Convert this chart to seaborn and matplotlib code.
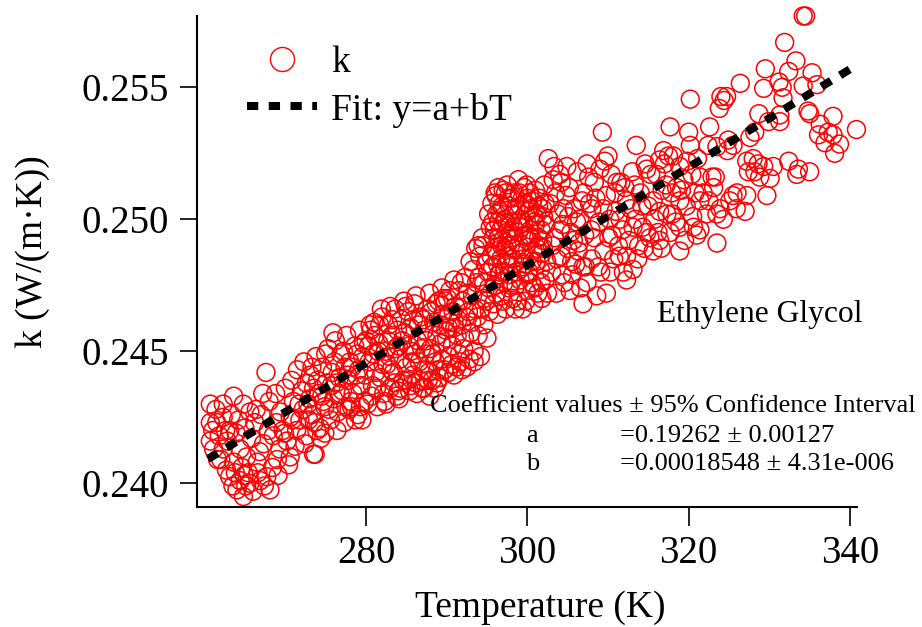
import numpy as np
import pandas as pd
import matplotlib
matplotlib.use("Agg")
import matplotlib.pyplot as plt
import seaborn as sns
from matplotlib.lines import Line2D

# ---------------- data (T in K, k in mW/(m.K)) ----------------
pts_260_274 = [
    (260.7, 243.0), (262.3, 243.0), (263.6, 243.3), (264.8, 243.0), (266.4, 242.8),
    (260.7, 241.6), (261.5, 242.3), (262.3, 242.5), (260.7, 242.3), (263.1, 242.0),
    (261.1, 241.3), (262.3, 241.3), (264.4, 241.3), (263.6, 240.8), (265.2, 241.0),
    (263.1, 240.25), (264.4, 240.1), (265.6, 240.0), (264.0, 239.75), (264.8, 239.5),
    (266.9, 240.1), (268.1, 239.75), (267.7, 240.25), (266.5, 240.8), (267.3, 241.5),
    (268.5, 241.8), (269.3, 241.3), (270.6, 241.0), (268.9, 242.3), (270.6, 242.5),
    (272.2, 242.8), (271.4, 242.0), (272.6, 241.8), (273.5, 241.1), (261.0, 242.0),
    (261.8, 241.8), (262.0, 240.9), (262.8, 241.6), (263.3, 242.6), (263.9, 241.9),
    (264.2, 242.4), (264.6, 240.6), (265.0, 242.1), (265.4, 240.4), (265.8, 241.7),
    (266.2, 242.3), (266.0, 239.7), (263.5, 239.9), (264.9, 240.3), (262.7, 240.5),
    (261.6, 240.9), (266.8, 241.2), (267.0, 242.6), (267.9, 242.0), (268.4, 240.6),
    (269.0, 240.9), (269.7, 242.0), (270.2, 241.6), (271.0, 243.1), (271.8, 242.4),
    (270.0, 243.6), (270.8, 243.9), (271.5, 244.3), (272.0, 243.5), (273.0, 243.2),
    (273.6, 242.3), (274.0, 243.9), (274.4, 241.7), (267.6, 244.2), (273.7, 241.1),
    (267.2, 243.4), (268.0, 243.1), (269.1, 240.3), (270.9, 242.4), (265.6, 242.7),
    (262.6, 242.0), (261.4, 242.8), (263.8, 240.4), (265.1, 239.9), (266.6, 240.4),
    (267.4, 239.9), (268.8, 243.4), (269.4, 242.7), (269.9, 241.9), (270.4, 240.7),
    (271.2, 241.4), (271.7, 243.0), (272.4, 241.5), (272.9, 242.4), (273.3, 244.4),
    (273.9, 242.0),
]
pts_272_280 = [
    (272.3, 244.6), (272.8, 243.0), (273.1, 244.1), (273.3, 242.6), (273.8, 244.8),
    (274.1, 243.4), (274.3, 242.1), (274.6, 244.4), (274.9, 242.9), (275.1, 243.8),
    (275.3, 245.1), (275.6, 242.4), (275.8, 244.2), (276.0, 243.2), (276.2, 245.4),
    (276.5, 242.7), (276.7, 244.0), (276.9, 244.9), (277.1, 243.5), (277.3, 242.3),
    (277.6, 245.6), (277.8, 243.9), (278.0, 244.6), (278.2, 242.9), (278.4, 243.4),
    (278.6, 245.2), (278.8, 244.1), (279.0, 242.6), (279.2, 245.8), (279.4, 243.7),
    (279.6, 244.8), (279.8, 243.1), (280.0, 245.4), (275.0, 244.9), (273.5, 243.6),
    (276.3, 243.8), (277.4, 244.4), (278.9, 244.9), (274.7, 243.1), (272.6, 243.8),
    (279.5, 242.4), (277.9, 242.8), (275.9, 245.7),
    (274.5, 243.3), (274.9, 241.9), (275.4, 242.8), (275.7, 243.7), (276.1, 244.6),
    (276.4, 242.0), (276.8, 243.4), (277.2, 245.0), (277.5, 242.9), (277.7, 244.1),
    (278.1, 243.1), (278.3, 244.4), (278.7, 242.4), (279.1, 244.3), (279.3, 242.9),
    (279.7, 245.3), (279.9, 244.1),
]
pts_280_289 = [
    (280.2, 243.0), (280.4, 244.6), (280.6, 245.8), (280.8, 243.7), (281.0, 246.1),
    (281.2, 244.2), (281.4, 242.9), (281.6, 245.3), (281.8, 244.0), (282.0, 246.3),
    (282.2, 243.4), (282.4, 245.0), (282.6, 244.5), (282.8, 246.0), (283.0, 243.6),
    (283.2, 245.6), (283.4, 244.2), (283.6, 246.6), (283.8, 243.3), (284.0, 245.2),
    (284.2, 244.7), (284.4, 246.2), (284.6, 243.9), (284.8, 245.7), (285.0, 244.4),
    (285.2, 246.5), (285.4, 243.5), (285.6, 245.0), (285.8, 244.1), (286.0, 246.8),
    (286.2, 243.8), (286.4, 245.4), (286.6, 244.6), (286.8, 246.3), (287.0, 243.6),
    (287.2, 245.8), (287.4, 244.9), (287.6, 246.6), (287.8, 244.2), (288.0, 245.1),
    (288.2, 243.9), (288.4, 246.1), (288.6, 244.6), (288.8, 245.6), (289.0, 246.9),
    (281.5, 245.0), (282.9, 244.8), (284.1, 243.2), (285.5, 245.9), (286.9, 245.1),
    (283.7, 245.1), (280.9, 244.9), (287.9, 243.3), (286.1, 244.9), (289.1, 244.0),
    (280.3, 245.2), (280.7, 243.3), (281.1, 245.6), (281.3, 243.6), (281.7, 246.0),
    (282.1, 244.5), (282.5, 243.0), (282.7, 245.4), (283.1, 244.3), (283.3, 246.2),
    (283.5, 243.8), (283.9, 245.8), (284.3, 243.6), (284.5, 245.4), (284.9, 246.7),
    (285.1, 243.9), (285.3, 245.2), (285.7, 244.6), (285.9, 246.2), (286.3, 243.4),
    (286.5, 246.0), (286.7, 243.9), (287.1, 246.2), (287.3, 244.3), (287.5, 245.4),
    (287.7, 243.9), (288.1, 246.5), (288.3, 244.9), (288.5, 243.6), (288.7, 246.8),
    (288.9, 244.3),
    (280.5, 246.0), (281.9, 246.6), (283.0, 246.7), (284.7, 246.9), (286.2, 247.1),
    (287.9, 247.2), (282.3, 243.1), (284.0, 243.5), (285.6, 243.7), (287.2, 243.6),
    (288.8, 243.8),
]
pts_289_295 = [
    (289.3, 245.3), (289.5, 246.4), (289.7, 244.3), (289.9, 245.8), (290.1, 247.0),
    (290.3, 244.8), (290.5, 246.1), (290.7, 245.2), (290.9, 244.1), (291.1, 246.7),
    (291.3, 245.6), (291.5, 247.3), (291.7, 244.6), (291.9, 246.0), (292.1, 245.1),
    (292.3, 247.8), (292.5, 244.4), (292.7, 246.5), (292.9, 248.4), (293.0, 245.7),
    (290.0, 245.5), (291.0, 245.9), (292.0, 246.9), (289.6, 247.0), (291.6, 244.9),
    (293.2, 247.1), (293.4, 245.0), (293.6, 248.9), (293.8, 246.3), (294.0, 247.8),
    (294.2, 244.8), (294.4, 249.3), (294.6, 246.0), (294.8, 248.3), (295.0, 245.5),
    (295.2, 247.4), (295.4, 249.7), (293.5, 246.6), (294.1, 248.6), (294.7, 247.0),
    (295.3, 246.5), (293.9, 245.6), (294.5, 249.0), (295.1, 248.0), (293.3, 248.1),
    (289.2, 246.0), (289.4, 244.7), (289.8, 246.9), (290.2, 245.9), (290.4, 247.3),
    (290.6, 244.5), (290.8, 246.5), (291.2, 244.4), (291.4, 246.2), (291.8, 247.6),
    (292.2, 245.5), (292.4, 246.3), (292.6, 247.2), (292.8, 244.7), (293.1, 246.1),
    (293.7, 247.6), (294.3, 246.6), (294.9, 246.9), (295.5, 248.6), (294.6, 247.6),
    (293.9, 249.0), (295.2, 250.2),
    (289.4, 247.4), (290.9, 247.7), (290.2, 244.2), (291.9, 244.3), (293.4, 244.6),
]
pts_295_302 = [
    (295.6, 250.6), (295.7, 248.2), (295.8, 246.8), (295.9, 249.6), (296.0, 247.5),
    (296.1, 250.9), (296.2, 248.8), (296.3, 246.4), (296.4, 249.9), (296.5, 247.9),
    (296.6, 250.3), (296.7, 248.5), (296.8, 247.1), (296.9, 249.2), (297.0, 251.1),
    (297.1, 248.0), (297.2, 250.0), (297.3, 246.6), (297.4, 249.5), (297.5, 251.3),
    (297.6, 248.6), (297.7, 247.4), (297.8, 250.5), (297.9, 249.0), (298.0, 248.2),
    (298.1, 250.8), (298.2, 247.0), (298.3, 249.7), (298.4, 248.9), (295.9, 248.9),
    (296.4, 249.3), (296.9, 250.5), (297.4, 248.3), (297.9, 249.9), (298.3, 250.2),
    (296.2, 250.2), (296.7, 249.6), (297.2, 248.9), (297.7, 249.4), (298.2, 248.5),
    (295.8, 249.3), (297.0, 249.8), (297.6, 250.8), (296.6, 248.0), (298.0, 247.6),
    (298.6, 250.4), (298.7, 248.0), (298.8, 246.9), (298.9, 249.5), (299.0, 251.0),
    (299.1, 247.7), (299.2, 250.0), (299.3, 248.7), (299.4, 246.6), (299.5, 249.9),
    (299.6, 251.2), (299.7, 248.3), (299.8, 250.6), (299.9, 247.3), (300.0, 249.2),
    (300.1, 250.3), (300.2, 248.0), (300.3, 251.0), (300.4, 249.6), (300.5, 247.6),
    (300.6, 250.7), (300.7, 248.8), (300.8, 246.8), (300.9, 249.9), (301.0, 251.1),
    (301.1, 248.4), (301.2, 250.2), (301.3, 247.2), (301.4, 249.3), (301.5, 250.8),
    (301.6, 248.1), (301.7, 249.6), (301.8, 247.0), (301.9, 250.4), (302.0, 248.9),
    (302.1, 251.3), (302.2, 247.7), (302.3, 249.8), (302.4, 248.4), (299.0, 249.0),
    (299.5, 248.5), (300.0, 250.8), (300.5, 249.3), (301.0, 249.8), (301.5, 249.0),
    (302.0, 250.1), (299.3, 249.7), (300.2, 249.4), (300.8, 250.1), (301.8, 248.7),
    (302.6, 252.3),
    (295.7, 249.9), (296.0, 251.0), (296.3, 248.3), (296.5, 250.6), (296.8, 249.0),
    (297.1, 247.6), (297.3, 251.0), (297.5, 249.0), (297.8, 247.9), (298.1, 249.3),
    (298.4, 251.0), (298.6, 247.5), (298.8, 249.9), (299.1, 250.5), (299.4, 248.2),
    (299.6, 249.4), (299.9, 251.3), (300.1, 247.9), (300.4, 250.4), (300.6, 248.4),
    (300.9, 247.4), (301.2, 248.9), (301.4, 250.5), (301.7, 247.6), (301.9, 249.2),
    (302.2, 250.6), (302.5, 247.2), (296.1, 247.2), (297.0, 246.9), (298.5, 246.6),
    (299.8, 246.9), (296.4, 251.2), (298.9, 251.5),
]
pts_302_312 = [
    (302.8, 250.6), (303.0, 248.0), (303.2, 251.5), (303.4, 249.3), (303.6, 247.2),
    (303.8, 250.2), (304.0, 251.7), (304.2, 248.6), (304.4, 249.8), (304.6, 247.6),
    (304.8, 250.9), (305.0, 248.9), (305.2, 251.2), (305.4, 249.5), (305.6, 247.9),
    (305.8, 250.4), (306.0, 248.3), (306.2, 251.8), (306.4, 249.1), (306.6, 247.4),
    (306.8, 250.7), (303.1, 249.0), (304.1, 249.6), (305.1, 250.1), (306.1, 249.9),
    (303.5, 251.0), (305.5, 248.4), (306.9, 248.2), (304.2, 251.4), (306.9, 246.8),
    (307.1, 249.4), (307.4, 252.1), (307.4, 247.6), (307.7, 250.6), (308.0, 248.5),
    (308.3, 251.4), (308.6, 247.1), (308.9, 249.9), (309.0, 251.9), (309.3, 253.3),
    (309.5, 248.8), (309.8, 247.2), (309.8, 250.9), (310.1, 249.3), (310.4, 251.7),
    (310.7, 248.5), (311.0, 250.3), (311.3, 249.0), (311.6, 251.4), (311.9, 248.0),
    (312.3, 247.7), (312.3, 250.7), (308.3, 249.3), (310.2, 250.0), (311.1, 251.4),
    (308.0, 250.4), (309.6, 252.2), (310.0, 252.4),
    (303.3, 252.0), (304.5, 250.4), (305.3, 247.3), (306.5, 250.0), (307.9, 249.6),
    (309.1, 248.0), (310.5, 249.4), (311.5, 250.0), (304.9, 252.0), (307.0, 251.0),
    (303.7, 248.5), (304.3, 247.9), (305.7, 249.2), (306.3, 248.8), (307.2, 248.2),
    (307.6, 251.6), (308.5, 250.8), (308.8, 248.2), (309.4, 250.4), (310.3, 248.0),
    (310.9, 251.0), (311.4, 248.6), (311.8, 249.6), (312.1, 251.2),
]
pts_312_322 = [
    (312.6, 249.2), (313.0, 251.8), (313.1, 248.1), (313.4, 250.0), (313.5, 252.8),
    (313.8, 249.0), (314.0, 251.0), (314.3, 249.7), (314.6, 252.1), (314.8, 249.5),
    (315.0, 250.5), (315.3, 251.7), (315.6, 248.8), (315.6, 250.7), (316.0, 251.7),
    (316.2, 249.5), (316.4, 250.3), (316.4, 249.2), (316.9, 252.6), (316.7, 251.1),
    (313.1, 249.7), (314.8, 251.9), (312.3, 248.6), (316.4, 252.25),
    (317.0, 252.1), (317.3, 250.2), (317.5, 252.4), (317.7, 249.5), (318.0, 250.2),
    (318.1, 252.4), (318.5, 251.2), (318.9, 250.7), (318.9, 249.7), (318.9, 252.0),
    (319.4, 251.5), (319.7, 250.5), (320.0, 253.3), (320.2, 252.8), (320.4, 251.7),
    (320.5, 250.1), (320.8, 251.0), (321.0, 249.4), (321.4, 250.7), (321.4, 249.6),
    (321.4, 251.6), (317.7, 253.5), (318.9, 248.8), (319.5, 249.2), (320.2, 254.55),
    (312.8, 250.4), (313.3, 251.3), (313.7, 248.5), (314.2, 250.5), (314.5, 248.9),
    (315.2, 249.3), (315.8, 250.0), (316.6, 248.9), (317.2, 251.3), (317.9, 251.0),
    (318.4, 249.9), (319.1, 251.1), (319.8, 252.2), (320.6, 249.7), (321.1, 252.3),
    (321.8, 251.0),
]
pts_322_341 = [
    (322.2, 250.2), (322.4, 252.8), (322.6, 253.5), (323.1, 251.2), (323.5, 250.2),
    (323.5, 249.1), (323.8, 254.2), (324.0, 254.65), (324.3, 250.0), (324.4, 254.5),
    (324.7, 254.65), (324.8, 252.6), (324.9, 253.0), (325.5, 252.8), (325.5, 250.9),
    (325.1, 250.7), (325.9, 250.4), (326.4, 255.15), (326.0, 251.0), (323.9, 250.4),
    (323.5, 252.75), (322.9, 251.6), (322.5, 250.7), (323.3, 251.6),
    (334.2, 257.7), (334.5, 257.7), (331.9, 256.7), (333.3, 256.0), (329.5, 255.7),
    (332.4, 255.6), (335.3, 255.55), (331.2, 255.2), (329.3, 254.96), (331.6, 255.0),
    (334.2, 255.05), (335.9, 255.1), (331.7, 254.6), (328.7, 254.0), (334.8, 254.1),
    (335.0, 254.0), (331.3, 253.95), (337.9, 253.9), (329.9, 253.7), (331.3, 253.7),
    (328.2, 253.3), (327.6, 253.1), (336.3, 253.6), (336.1, 253.2), (337.3, 253.3),
    (337.9, 253.2), (336.9, 252.9), (338.7, 252.85), (338.1, 252.5), (340.8, 253.4),
    (327.2, 252.2), (328.0, 252.3), (328.6, 252.1), (327.4, 251.8), (328.2, 251.8),
    (329.3, 252.0), (330.5, 252.0), (328.8, 251.6), (330.1, 251.55), (329.7, 250.9),
    (332.4, 252.2), (333.6, 251.9), (335.0, 251.8), (333.4, 251.7), (327.2, 250.9),
    (327.0, 250.3),
]

fit_a = 0.19262          # W/(m.K)
fit_b = 0.00018548       # W/(m.K^2)
fit_T_range = [260.4, 340.0]

legend_labels = ["k", "Fit: y=a+bT"]
x_ticks = [280, 300, 320, 340]
y_ticks = [0.240, 0.245, 0.250, 0.255]

# ---------------- assemble ----------------
all_pts = (pts_260_274 + pts_272_280 + pts_280_289 + pts_289_295 +
           pts_295_302 + pts_302_312 + pts_312_322 + pts_322_341)
df = pd.DataFrame(all_pts, columns=["T", "k_mW"])
df["k"] = df["k_mW"] / 1000.0
fit_df = pd.DataFrame({"T": fit_T_range})
fit_df["k"] = fit_a + fit_b * fit_df["T"]

sns.set_theme(style="ticks")
plt.rcParams["font.family"] = ["Liberation Serif", "DejaVu Serif"]
plt.rcParams["text.color"] = "black"
plt.rcParams["axes.labelcolor"] = "black"

fig = plt.figure(figsize=(9.22, 6.27), dpi=100)
ax = fig.add_axes([197 / 922, 1 - 507 / 627, 660 / 922, 491 / 627])

sns.scatterplot(data=df, x="T", y="k", ax=ax, marker="o", s=165,
                facecolor="none", edgecolor="#ff0000", linewidth=1.1,
                legend=False, zorder=2, clip_on=False)
sns.lineplot(data=fit_df, x="T", y="k", ax=ax, color="black", linewidth=5.8,
             linestyle=(0, (1.4, 1.3)), legend=False, zorder=3)

ax.set_xlim(259.05, 340.87)
ax.set_ylim(0.239102, 0.25770)
ax.set_xticks(x_ticks)
ax.set_yticks(y_ticks)
ax.set_yticklabels([f"{v:.3f}" for v in y_ticks])
ax.set_xticklabels([str(v) for v in x_ticks])

for s in ["top", "right"]:
    ax.spines[s].set_visible(False)
for s in ["left", "bottom"]:
    ax.spines[s].set_linewidth(1.5)
    ax.spines[s].set_color("black")

ax.tick_params(axis="y", direction="out", length=12, width=1.2, pad=8,
               labelsize=28, colors="black")
ax.tick_params(axis="x", direction="out", length=13.5, width=1.2, pad=7,
               labelsize=28, colors="black")

ax.set_xlabel("Temperature (K)", fontsize=27)
ax.set_ylabel("k (W/(m·K))", fontsize=27)
ax.xaxis.set_label_coords((540 - 197) / 660, (507 - 590) / 491)
ax.yaxis.set_label_coords((50 - 197) / 660, (507 - 252) / 491)

handles = [
    Line2D([], [], marker="o", linestyle="none", markerfacecolor="none",
           markeredgecolor="#ff0000", markersize=17.3, markeredgewidth=1.0),
    Line2D([], [], color="black", linewidth=5.8, linestyle=(0, (1.4, 1.3))),
]
fig.legend(handles, legend_labels, loc="upper left",
           bbox_to_anchor=(247 / 922, 1 - 46 / 627), frameon=False,
           fontsize=27, handlelength=1.87, handletextpad=0.37,
           labelspacing=0.32, borderpad=0, borderaxespad=0)

fig.text(760 / 922, 1 - 322 / 627, "Ethylene Glycol", fontsize=22.7,
         ha="center", va="baseline")
fig.text(430 / 922, 1 - 412 / 627,
         "Coefficient values ± 95% Confidence Interval", fontsize=19,
         ha="left", va="baseline")
fig.text(526 / 922, 1 - 442 / 627, "a", fontsize=19, ha="left", va="baseline")
fig.text(620 / 922, 1 - 442 / 627, "=0.19262 ± 0.00127", fontsize=19,
         ha="left", va="baseline")
fig.text(526 / 922, 1 - 470 / 627, "b", fontsize=19, ha="left", va="baseline")
fig.text(620 / 922, 1 - 470 / 627, "=0.00018548 ± 4.31e-006", fontsize=19,
         ha="left", va="baseline")

fig.savefig("out.png", dpi=100, facecolor="white")
